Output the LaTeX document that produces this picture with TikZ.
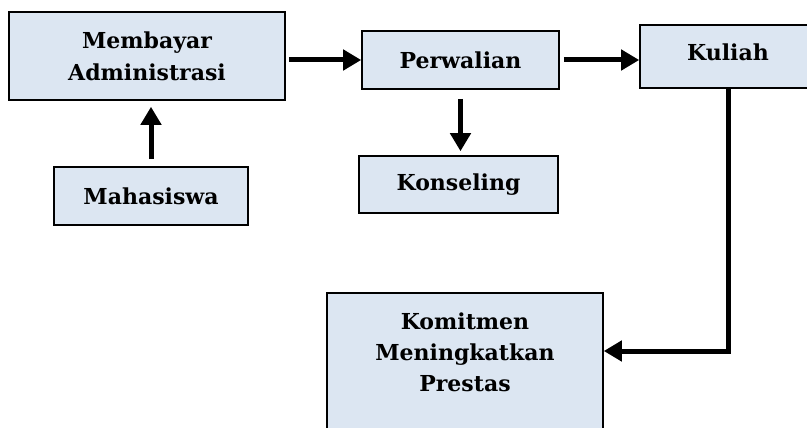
\documentclass[tikz,border=0pt]{standalone}
\usepackage{fontspec}
\setmainfont{DejaVu Serif}
\usetikzlibrary{arrows.meta}
\definecolor{boxfill}{HTML}{DCE6F2}
\tikzset{
  box/.style={draw=black, line width=1.6pt, fill=boxfill, rectangle, inner sep=0pt,
              font=\bfseries\fontsize{22}{32}\selectfont, align=center},
  label text/.style={inner sep=0pt, font=\bfseries\fontsize{22}{31}\selectfont, align=center},
  conn/.style={line width=5pt, -{Triangle[length=18pt,width=20pt]}}
}
\begin{document}
\begin{tikzpicture}[x=1pt,y=-1pt]
  \clip (0,0) rectangle (807,428);
  \fill[white] (0,0) rectangle (807,428);

  % process boxes
  \node[box, minimum width=276pt, minimum height=88pt] (mem) at (147,56) {Membayar\\Administrasi};
  \node[box, minimum width=197pt, minimum height=58pt] (per) at (460.5,60) {Perwalian};
  \node[box, minimum width=199pt, minimum height=57pt] (kon) at (458.5,184.5) {Konseling};
  \node[box, minimum width=176pt, minimum height=63pt] (kul) at (728,56.5) {};
  \node[box, minimum width=194pt, minimum height=58pt] (mah) at (151,196) {Mahasiswa};
  \node[box, minimum width=276pt, minimum height=160pt] (kom) at (465,373) {};

  % texts placed above the centre of the taller boxes
  \node[label text] (kultxt) at ([yshift=4pt]kul.center) {Kuliah};
  \node[label text] (komtxt) at ([yshift=21pt]kom.center) {Komitmen\\Meningkatkan\\Prestas};

  % connectors
  \draw[conn, shorten <=7pt, shorten >=6pt] (mah.north) -- (mah.north |- mem.south);
  \draw[conn, shorten <=3pt] (per.west -| mem.east) -- (per.west);
  \draw[conn, shorten <=4pt] (per.east) -- (per.east -| kul.west);
  \draw[conn, shorten <=9pt, shorten >=4pt] (per.south) -- (per.south |- kon.north);
  \draw[conn] (kul.south) |- ([yshift=22pt]kom.east);
\end{tikzpicture}
\end{document}
